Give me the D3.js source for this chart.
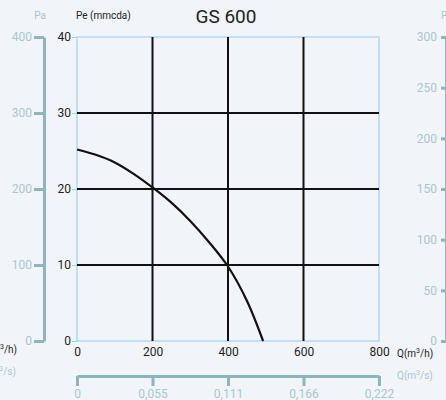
<!DOCTYPE html>
<html><head><meta charset="utf-8">
<script src="https://cdn.jsdelivr.net/npm/d3@7"></script>
<style>
html,body{margin:0;padding:0;background:#f1f5fa;}
svg{display:block;font-family:Roboto, "DejaVu Sans", sans-serif;}
</style></head>
<body><svg id="c" width="446" height="400"></svg>
<script>
const title = "GS 600";
const flowTicks = [0, 200, 400, 600, 800];
const flowSecLabels = ["0", "0,055", "0,111", "0,166", "0,222"];
const pressTicks = [0, 10, 20, 30, 40];
const paLeftTicks = [0, 100, 200, 300, 400];
const paRightTicks = [0, 50, 100, 150, 200, 250, 300];
const curveQ = [0, 50, 100, 150, 200, 250, 300, 350, 400, 450, 493];
const curveP = [25.2, 24.5, 23.5, 22.0, 20.2, 18.2, 15.8, 13.0, 9.8, 5.3, 0];

const svg = d3.select("#c");
const L = 77, R = 379, T = 37, B = 341;
const x = d3.scaleLinear().domain([0, 800]).range([L, R]);
const y = d3.scaleLinear().domain([0, 40]).range([B, T]);
const yPaL = d3.scaleLinear().domain([0, 400]).range([B, T]);
const yPaR = d3.scaleLinear().domain([0, 300]).range([B, T]);
const xs = d3.scalePoint().domain(flowSecLabels).range([L, R]);

const light = "#a9c5cd", barC = "#8fb4bc";

// title
svg.append("text").attr("x", 226).attr("y", 23).attr("text-anchor", "middle")
  .attr("font-size", 19).attr("fill", "#222").text(title);
svg.append("text").attr("x", 76).attr("y", 19).attr("font-size", 10).attr("fill", "#222").text("Pe (mmcda)");

// frame
svg.append("rect").attr("x", L).attr("y", T).attr("width", R - L).attr("height", B - T)
  .attr("fill", "none").attr("stroke", "#9fd3f3").attr("stroke-width", 1.2);

// grid
const g = svg.append("g");
g.selectAll("line.v").data(flowTicks.filter(d => d > 0 && d < 800)).join("line")
  .attr("x1", d => x(d)).attr("x2", d => x(d)).attr("y1", T).attr("y2", B)
  .attr("stroke", "#111").attr("stroke-width", 2);
g.selectAll("line.h").data(pressTicks.filter(d => d > 0 && d < 40)).join("line")
  .attr("x1", L).attr("x2", R).attr("y1", d => y(d)).attr("y2", d => y(d))
  .attr("stroke", "#111").attr("stroke-width", 2);

// left pressure axis (mmcda)
const ya = svg.append("g").attr("transform", `translate(${L},0)`)
  .call(d3.axisLeft(y).tickValues(pressTicks).tickSize(5).tickPadding(1));
ya.select(".domain").remove();
ya.selectAll(".tick line").attr("stroke", "#9fd3f3");
ya.selectAll("text").attr("font-size", 12).attr("fill", "#222").attr("font-family", "Roboto");

// bottom flow axis m3/h
const xa = svg.append("g").attr("transform", `translate(0,${B})`)
  .call(d3.axisBottom(x).tickValues(flowTicks).tickSize(0).tickPadding(6));
xa.select(".domain").remove();
xa.selectAll("text").attr("font-size", 12).attr("fill", "#222").attr("font-family", "Roboto");

// curve
svg.append("path").datum(curveQ.map((q, i) => [q, curveP[i]]))
  .attr("d", d3.line().x(d => x(d[0])).y(d => y(d[1])).curve(d3.curveCatmullRom.alpha(0.5)))
  .attr("fill", "none").attr("stroke", "#111").attr("stroke-width", 2.2);

// left Pa axis
const pl = svg.append("g").attr("transform", "translate(44,0)")
  .call(d3.axisLeft(yPaL).tickValues(paLeftTicks).tickSize(10).tickPadding(2).tickSizeOuter(0));
pl.select(".domain").attr("stroke", barC).attr("stroke-width", 3);
pl.selectAll(".tick line").attr("stroke", barC).attr("stroke-width", 3);
pl.selectAll("text").attr("font-size", 12).attr("fill", light).attr("font-family", "Roboto");
svg.append("text").attr("x", 40).attr("y", 19).attr("text-anchor", "middle").attr("font-size", 10).attr("fill", light).text("Pa");

// right Pa axis
const pr = svg.append("g").attr("transform", "translate(446,0)")
  .call(d3.axisLeft(yPaR).tickValues(paRightTicks).tickSize(5).tickPadding(4).tickSizeOuter(0));
pr.select(".domain").attr("stroke", barC).attr("stroke-width", 3);
pr.selectAll(".tick line").attr("stroke", barC).attr("stroke-width", 3);
pr.selectAll("text").attr("font-size", 12).attr("fill", light).attr("font-family", "Roboto");
svg.append("text").attr("x", 441).attr("y", 19).attr("font-size", 10).attr("fill", light).text("Pa");

// bottom m3/s axis
const sa = svg.append("g").attr("transform", "translate(0,376)")
  .call(d3.axisBottom(xs).tickSize(10).tickPadding(3).tickSizeOuter(0));
sa.select(".domain").attr("stroke", barC).attr("stroke-width", 3);
sa.selectAll(".tick line").attr("stroke", barC).attr("stroke-width", 3);
sa.selectAll("text").attr("font-size", 12).attr("fill", light).attr("font-family", "Roboto");

// unit labels
function qLabel(xp, yp, unit, color, anchor) {
  const t = svg.append("text").attr("x", xp).attr("y", yp).attr("font-size", 10)
    .attr("fill", color).attr("text-anchor", anchor);
  t.append("tspan").text("Q(m");
  t.append("tspan").attr("dy", -4).attr("font-size", 7).text("3");
  t.append("tspan").attr("dy", 4).text(unit + ")");
}
qLabel(397, 357, "/h", "#222", "start");
qLabel(397, 379, "/s", light, "start");
qLabel(17, 353, "/h", "#222", "end");
qLabel(16, 375, "/s", light, "end");
</script></body></html>
